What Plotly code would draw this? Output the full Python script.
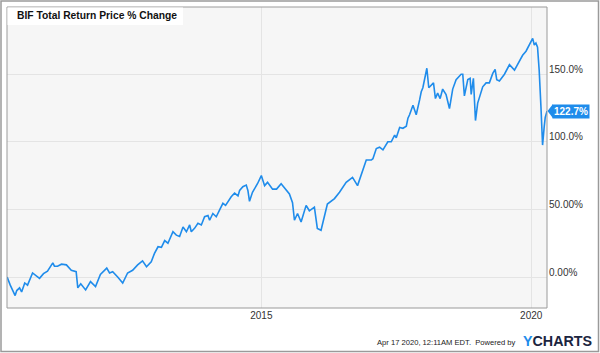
import plotly.graph_objects as go

dates = [
    "2010-04-17","2010-05-08","2010-06-10","2010-06-21","2010-07-10","2010-07-24","2010-08-14","2010-09-02",
    "2010-10-06","2010-10-26","2010-11-22","2010-12-19","2011-01-15","2011-02-20","2011-03-03","2011-03-24",
    "2011-04-20","2011-05-23","2011-06-25","2011-07-28","2011-08-08","2011-08-28","2011-09-30","2011-11-02",
    "2011-12-06","2012-01-08","2012-02-20","2012-03-10","2012-03-31","2012-05-04","2012-06-07","2012-07-10",
    "2012-08-13","2012-09-16","2012-10-19","2012-11-15","2012-12-05","2012-12-17","2013-01-08","2013-02-01",
    "2013-02-24","2013-03-18","2013-04-09","2013-05-02","2013-05-13","2013-06-05","2013-06-27","2013-07-20",
    "2013-08-12","2013-09-03","2013-09-14","2013-10-06","2013-10-29","2013-11-21","2013-12-13","2014-01-05",
    "2014-01-16","2014-02-07","2014-03-02","2014-03-24","2014-04-16","2014-05-04","2014-05-20","2014-06-11",
    "2014-07-04","2014-07-27","2014-08-07","2014-08-29","2014-09-21","2014-10-02","2014-10-13","2014-11-02",
    "2014-12-06","2015-01-01","2015-01-23","2015-02-12","2015-03-18","2015-04-14","2015-05-15","2015-06-18",
    "2015-07-10","2015-07-31","2015-08-13","2015-09-03","2015-09-27","2015-10-31","2015-11-22","2015-12-26",
    "2016-01-15","2016-02-09","2016-03-23","2016-05-10","2016-06-13","2016-07-28","2016-09-09","2016-10-13",
    "2016-11-18","2016-12-11","2017-01-14","2017-01-25","2017-02-17","2017-03-11","2017-04-03","2017-04-26",
    "2017-05-06","2017-05-29","2017-06-21","2017-07-02","2017-07-25","2017-08-16","2017-09-08","2017-09-19",
    "2017-09-30","2017-10-23","2017-11-14","2017-12-07","2017-12-18","2017-12-29","2018-01-09","2018-01-25",
    "2018-02-07","2018-02-23","2018-03-11","2018-03-24","2018-04-08","2018-04-25","2018-05-12","2018-06-04",
    "2018-06-27","2018-07-19","2018-08-11","2018-09-14","2018-09-25","2018-10-06","2018-10-18","2018-10-29",
    "2018-11-14","2018-11-21","2018-12-06","2018-12-20","2019-01-04","2019-01-27","2019-02-07","2019-03-02",
    "2019-03-24","2019-04-16","2019-05-02","2019-05-13","2019-05-31","2019-07-04","2019-08-07","2019-09-10",
    "2019-10-13","2019-11-04","2019-11-27","2019-12-19","2020-01-11","2020-01-22","2020-02-02","2020-02-13",
    "2020-02-24","2020-03-07","2020-03-18","2020-03-29","2020-04-05","2020-04-17",
]
pct_change = [
    0, -6, -13.7, -10, -8, -11, -4.4, -6,
    3, 1, -1, 2.5, 4.4, 10.5, 8, 8,
    9.5, 9, 5, 4, -8, -5, -9.5, -3.4,
    -7, 2, 6.6, 3, 3.9, 0, -4.4, 3,
    5, 9, 12, 7.6, 10, 11.3, 17.5, 22.4,
    22, 27, 25, 30, 33.5, 31, 30, 37,
    33.5, 38.5, 33.5, 36, 39.7, 38.5, 44.6, 45.5,
    42, 47, 44.6, 49.5, 54.5, 53, 55.7, 59.4,
    62, 60, 64, 66.8, 68, 64, 56, 62.7,
    69, 75, 67.6, 70, 65, 65, 69, 64,
    61.5, 55, 42, 47, 40.7, 53, 49, 51.7,
    36, 34.6, 54, 58, 62.7, 70, 73.7, 67.6,
    80, 86.5, 86.5, 87.5, 95, 96, 94, 98,
    100, 100, 105, 103, 110.6, 110, 111.5, 117.5,
    120, 127, 120, 131, 137, 140, 147, 154.4,
    140, 142, 143.6, 132, 136, 132, 139, 135,
    124.6, 139, 146, 150, 150, 134, 140.7, 146,
    147, 135, 147, 115.7, 128.6, 136, 140.7, 143.6,
    143.6, 150.6, 153.5, 146, 145, 150, 157, 153,
    160, 164, 167, 171.6, 176.5, 171.6, 173, 170,
    153, 126, 97.6, 111, 118, 122.7,
]
y_tickvals = [0, 50, 100, 150]
y_ticktext = ["0.00%", "50.00%", "100.0%", "150.0%"]
x_tickvals = ["2015-01-01", "2020-01-01"]
x_ticktext = ["2015", "2020"]
last_label = "122.7%"

BLUE = "#1f8ceb"
FONT = "Arial, Liberation Sans, sans-serif"

fig = go.Figure()
fig.add_trace(go.Scatter(x=dates, y=pct_change, mode="lines",
                         line=dict(color=BLUE, width=1.6), hoverinfo="skip"))

W, H = 600, 353
L, R, T, B = 7, 53, 7, 45
pw, ph = W - L - R, H - T - B

def px_x(p):
    return (p - L) / pw

def px_y(p):
    return (H - B - p) / ph

fig.update_layout(
    width=W, height=H,
    margin=dict(l=L, r=R, t=T, b=B),
    paper_bgcolor="white",
    plot_bgcolor="#f6f6f6",
    showlegend=False,
    font=dict(family=FONT, size=10, color="#333"),
    xaxis=dict(
        type="date",
        range=["2010-04-16", "2020-04-17"],
        tickvals=x_tickvals, ticktext=x_ticktext,
        showgrid=True, gridcolor="#e4e4e4", gridwidth=1,
        zeroline=False, showline=False, ticks="",
        tickfont=dict(size=10, color="#333"),
    ),
    yaxis=dict(
        side="right",
        range=[-22.9, 199.7],
        tickvals=y_tickvals, ticktext=y_ticktext,
        showgrid=True, gridcolor="#e4e4e4", gridwidth=1,
        zeroline=False, showline=False, ticks="",
        ticklabelshift=-5, ticklabelstandoff=1,
        tickfont=dict(size=10, color="#333"),
    ),
)

shapes = [
    dict(type="rect", xref="paper", yref="paper", x0=0, x1=1, y0=0, y1=1,
         line=dict(color="#9a9a9a", width=1), fillcolor="rgba(0,0,0,0)", layer="above"),
    dict(type="rect", xref="paper", yref="paper",
         x0=px_x(1), x1=px_x(598.5), y0=px_y(351.5), y1=px_y(1),
         line=dict(color="#9a9a9a", width=1.5), fillcolor="rgba(0,0,0,0)", layer="above"),
    dict(type="rect", xref="paper", yref="paper",
         x0=px_x(7.5), x1=px_x(183), y0=px_y(25), y1=px_y(7.5),
         line=dict(width=0), fillcolor="white", layer="above"),
    dict(type="path", xref="paper", yref="y",
         path=f"M {px_x(547.5)},{pct_change[-1]} L {px_x(553)},{pct_change[-1]+5.3} L {px_x(553)},{pct_change[-1]-5.3} Z",
         fillcolor=BLUE, line=dict(width=0), layer="above"),
]
fig.update_layout(shapes=shapes)

fig.add_annotation(x=px_x(15), y=px_y(16), xref="paper", yref="paper",
                   text="<b>BIF Total Return Price % Change</b>", showarrow=False,
                   xanchor="left", yanchor="middle",
                   font=dict(size=10.3, color="#111", family=FONT))
fig.add_annotation(x=px_x(552.5), y=pct_change[-1], xref="paper", yref="y",
                   text=f"<b>{last_label}</b>", showarrow=False,
                   xanchor="left", yanchor="middle", bgcolor=BLUE,
                   borderpad=1, font=dict(size=10, color="white"))
fig.add_annotation(x=px_x(518), y=px_y(342), xref="paper", yref="paper",
                   text="Apr 17 2020, 12:11AM EDT.  Powered by", showarrow=False,
                   xanchor="right", yanchor="middle",
                   font=dict(size=7.6, color="#222"))
fig.add_annotation(x=px_x(593), y=px_y(341), xref="paper", yref="paper",
                   text="<b><span style='color:#1f8ceb'>Y</span>CHARTS</b>", showarrow=False,
                   xanchor="right", yanchor="middle", borderpad=0,
                   font=dict(size=14.3, color="#1b2540", family=FONT))

fig.write_html("out.html")
